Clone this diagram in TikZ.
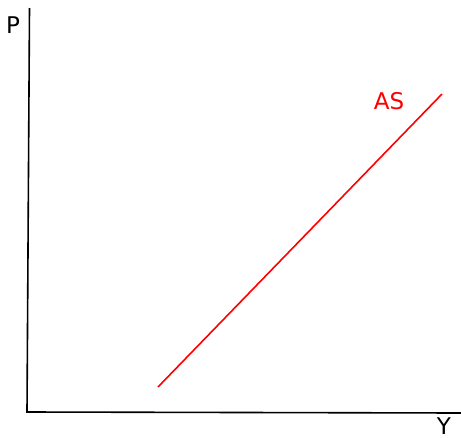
\documentclass[tikz,border=0pt]{standalone}
\usepackage{fontspec}
\setmainfont{DejaVu Sans}
\usepackage{xcolor}
\usepackage{tikz}

\begin{document}
\begin{tikzpicture}[x=1pt, y=-1pt, font=\fontsize{23}{27}\selectfont]
    \useasboundingbox (0,0) rectangle (461,437);

    % Axes
    \coordinate (ptop) at (29.5,8);
    \coordinate (origin) at (27,412);
    \coordinate (yend) at (461,413);
    \draw[line width=1.6pt] (ptop) -- (origin) -- (yend);

    % Axis labels
    \node[inner sep=0pt] (plabel) at (13,25) {P};
    \node[inner sep=0pt] (ylabel) at (444,426) {Y};

    % Aggregate supply
    \coordinate (aslow) at (158,387);
    \coordinate (ashigh) at (442,94);
    \draw[red, line width=1.6pt] (aslow) -- (ashigh);
    \node[red] (aslabel) at (389,101) {AS};
\end{tikzpicture}
\end{document}
